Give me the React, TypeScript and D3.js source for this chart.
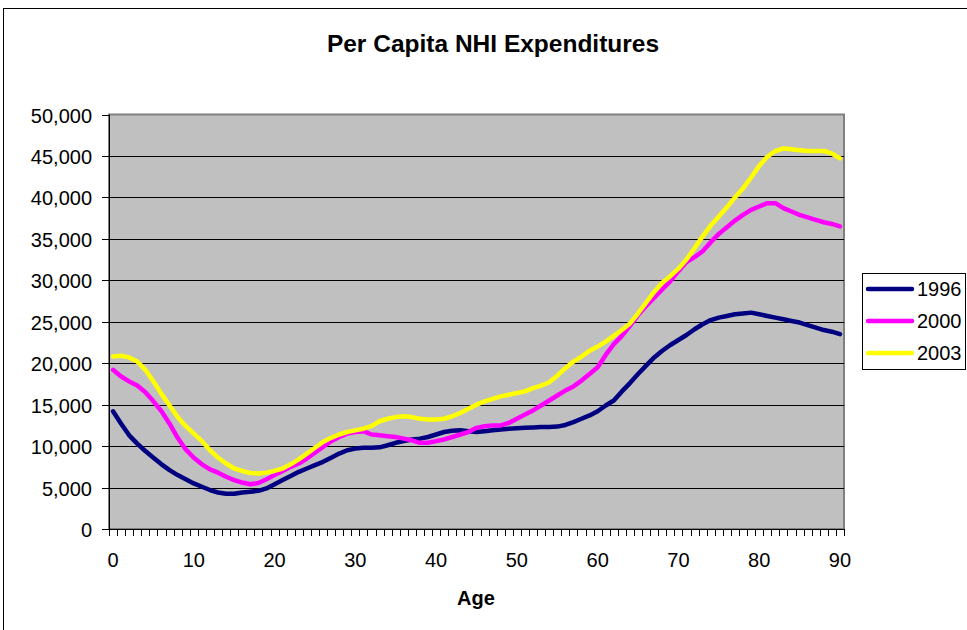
import React from "react";
import * as d3 from "d3";

const ages: number[] = d3.range(0, 91);

const series1996: number[] = [
  14200, 12700, 11300, 10300, 9400, 8600, 7800, 7100, 6500, 6000,
  5500, 5100, 4700, 4400, 4250, 4250, 4400, 4500, 4600, 4900,
  5400, 5900, 6400, 6900, 7300, 7700, 8100, 8600, 9100, 9500,
  9700, 9800, 9800, 9850, 10100, 10400, 10600, 10800, 10900, 11100,
  11400, 11700, 11850, 11900, 11800, 11700, 11800, 11900, 12000, 12100,
  12150, 12200, 12250, 12300, 12300, 12350, 12550, 12900, 13300, 13700,
  14200, 14900, 15500, 16600, 17600, 18700, 19700, 20700, 21500, 22200,
  22800, 23400, 24100, 24700, 25200, 25500, 25700, 25900, 26000, 26100,
  25900, 25700, 25500, 25300, 25100, 24900, 24600, 24300, 24000, 23800,
  23500,
];

const series2000: number[] = [
  19200, 18400, 17800, 17300, 16500, 15400, 14200, 12700, 11000, 9600,
  8600, 7800, 7200, 6800, 6300, 5900, 5600, 5400, 5550, 6000,
  6500, 7000, 7500, 7900, 8500, 9200, 9900, 10600, 11100, 11500,
  11700, 11800, 11400, 11300, 11200, 11100, 10900, 10700, 10400, 10400,
  10600, 10800, 11100, 11400, 11700, 12200, 12400, 12500, 12500, 12800,
  13300, 13800, 14300, 14900, 15500, 16100, 16700, 17200, 17900, 18700,
  19500, 21000, 22300, 23300, 24500, 25800, 26900, 27900, 28900, 29900,
  31100, 32200, 32800, 33500, 34600, 35600, 36400, 37200, 37900, 38500,
  38900, 39300, 39300, 38700, 38300, 37900, 37600, 37300, 37000, 36800,
  36500,
];

const series2003: number[] = [
  20800, 20900, 20700, 20200, 19200, 17800, 16300, 14900, 13500, 12400,
  11500, 10600, 9500, 8600, 7900, 7300, 7000, 6750, 6700, 6800,
  7000, 7300, 7800, 8400, 9100, 9800, 10500, 11000, 11400, 11700,
  11900, 12100, 12400, 13000, 13300, 13500, 13600, 13500, 13300, 13200,
  13200, 13300, 13600, 14000, 14500, 15000, 15400, 15700, 16000, 16200,
  16400, 16600, 17000, 17300, 17700, 18500, 19400, 20200, 20800, 21500,
  22000, 22600, 23300, 24000, 24800, 26000, 27300, 28600, 29700, 30500,
  31400, 32500, 33900, 35300, 36600, 37700, 38800, 40000, 41100, 42400,
  43800, 44900, 45600, 45900, 45800, 45700, 45600, 45600, 45600, 45300,
  44700,
];

const seriesNames: string[] = ["1996", "2000", "2003"];
const seriesColors: string[] = ["#000080", "#FF00FF", "#FFFF00"];
const yTicks: number[] = d3.range(0, 50001, 5000);
const xLabelTicks: number[] = d3.range(0, 91, 10);

const W = 967;
const H = 630;
const plotLeft = 109;
const plotRight = 844;
const plotTop = 114.5;
const plotBottom = 529;

export default function App() {
  const x = d3.scaleLinear().domain([-0.5, 90.5]).range([plotLeft, plotRight]);
  const y = d3.scaleLinear().domain([0, 50000]).range([plotBottom, plotTop]);
  const fmt = d3.format(",");
  const allSeries = [series1996, series2000, series2003];
  const line = d3
    .line<number>()
    .x((_, i) => x(ages[i]))
    .y((d) => y(d));
  const boundaryTicks = d3.range(0, 92).map((i) => i - 0.5);
  const font = "'Liberation Sans', Arial, sans-serif";

  return (
    <svg
      width={W}
      height={H}
      style={{ position: "absolute", left: 0, top: 0, background: "#fff" }}
      fontFamily={font}
    >
      <rect x={0} y={0} width={W} height={H} fill="#fff" />
      <rect x={3.5} y={8.5} width={1000} height={700} fill="none" stroke="#000" strokeWidth={1} />

      <text x={493} y={52} textAnchor="middle" fontWeight="bold" fontSize={24.5}>
        Per Capita NHI Expenditures
      </text>

      {/* plot area */}
      <rect
        x={plotLeft}
        y={plotTop}
        width={plotRight - plotLeft}
        height={plotBottom - plotTop}
        fill="#C0C0C0"
        stroke="#808080"
        strokeWidth={2}
      />

      {yTicks.map((t) => {
        const yy = Math.round(y(t)) + 0.5;
        return (
          <g key={t}>
            {t > 0 && t < 50000 && (
              <line x1={plotLeft} x2={plotRight} y1={yy} y2={yy} stroke="#000" strokeWidth={1} />
            )}
            <line x1={plotLeft - 7} x2={plotLeft} y1={yy} y2={yy} stroke="#000" strokeWidth={1} />
            <text x={plotLeft - 17} y={yy} dy="0.35em" textAnchor="end" fontSize={20}>
              {fmt(t)}
            </text>
          </g>
        );
      })}

      {/* axes */}
      <line x1={plotLeft + 0.5} x2={plotLeft + 0.5} y1={plotTop} y2={plotBottom} stroke="#000" strokeWidth={1} />
      <line x1={plotLeft} x2={plotRight} y1={plotBottom + 0.5} y2={plotBottom + 0.5} stroke="#000" strokeWidth={1} />

      {boundaryTicks.map((b) => {
        const xx = Math.round(x(b)) + 0.5;
        return <line key={b} x1={xx} x2={xx} y1={plotBottom} y2={plotBottom + 7} stroke="#000" strokeWidth={1} />;
      })}
      {xLabelTicks.map((t) => (
        <text key={t} x={x(t)} y={567} textAnchor="middle" fontSize={20}>
          {t}
        </text>
      ))}

      <text x={476} y={605} textAnchor="middle" fontWeight="bold" fontSize={20}>
        Age
      </text>

      {allSeries.map((s, k) => (
        <path
          key={k}
          d={line(s) || ""}
          fill="none"
          stroke={seriesColors[k]}
          strokeWidth={4.5}
          strokeLinejoin="round"
          strokeLinecap="round"
        />
      ))}

      {/* legend */}
      <rect x={862.5} y={273.5} width={103} height={96} fill="#fff" stroke="#000" strokeWidth={1} />
      {seriesNames.map((n, k) => {
        const ly = 289 + k * 32;
        return (
          <g key={n}>
            <line x1={868} x2={912} y1={ly} y2={ly} stroke={seriesColors[k]} strokeWidth={4.5} strokeLinecap="round" />
            <text x={917} y={ly} dy="0.35em" fontSize={20}>
              {n}
            </text>
          </g>
        );
      })}
    </svg>
  );
}
